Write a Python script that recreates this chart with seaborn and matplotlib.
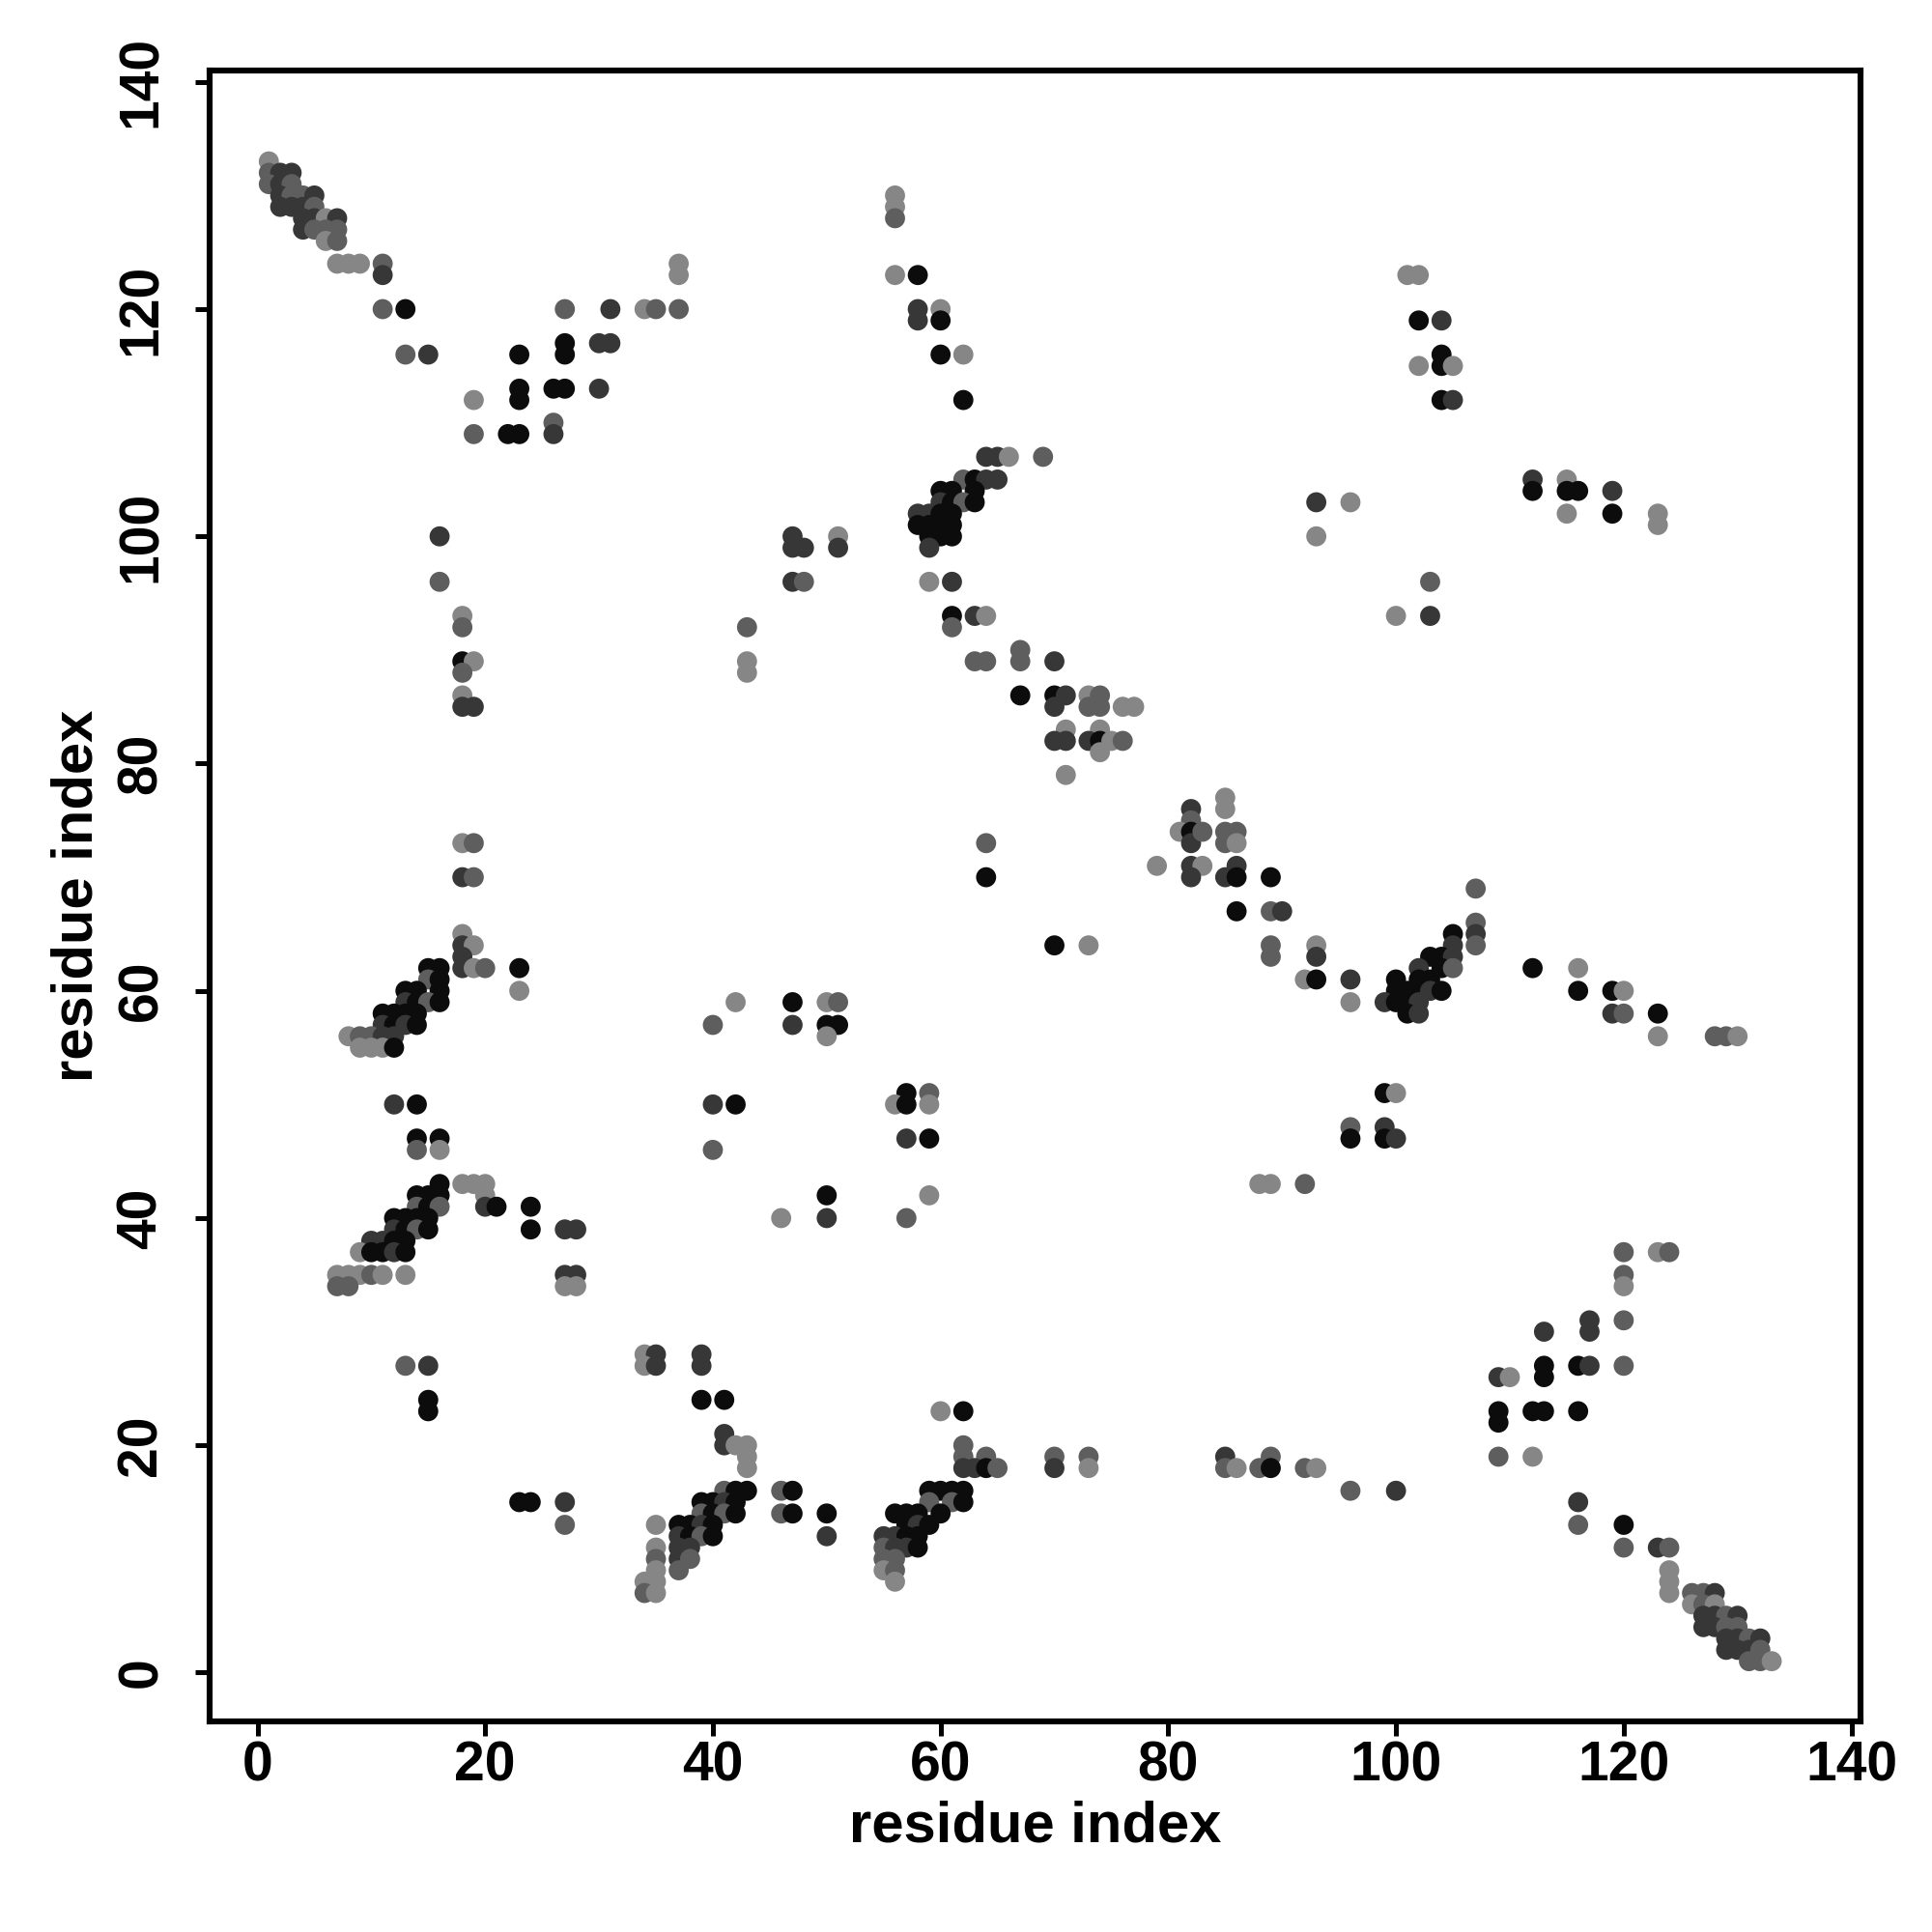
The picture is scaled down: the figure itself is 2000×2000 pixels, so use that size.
import matplotlib
matplotlib.use("Agg")
import matplotlib.pyplot as plt
import pandas as pd
import seaborn as sns

# contact map: (residue i, residue j, shade)
# shade: K = black, D = dark grey, M = mid grey, L = light grey
diag_top = [(1,133,'L'),(1,132,'M'),(2,132,'D'),(3,132,'D'),(1,131,'M'),(2,131,'D'),(3,131,'M'),
            (2,130,'D'),(3,130,'M'),(4,130,'M'),(5,130,'D'),(2,129,'D'),(3,129,'D'),(4,129,'D'),(5,129,'M'),
            (4,128,'D'),(5,128,'D'),(6,128,'L'),(7,128,'D'),(4,127,'D'),(5,127,'M'),(6,127,'M'),(7,127,'M'),
            (6,126,'L'),(7,126,'M'),(7,124,'L'),(8,124,'L'),(9,124,'L'),(11,124,'M'),(11,123,'D'),
            (11,120,'M'),(13,120,'K'),(13,116,'M'),(15,116,'D')]

top_band = [(27,120,'M'),(31,120,'D'),(34,120,'L'),(35,120,'M'),(37,120,'M'),(37,124,'L'),(37,123,'L'),
            (27,117,'K'),(30,117,'D'),(31,117,'D'),(23,116,'K'),(27,116,'K'),
            (23,113,'K'),(26,113,'K'),(27,113,'K'),(30,113,'D'),(19,112,'L'),(23,112,'K'),
            (26,110,'M'),(19,109,'M'),(22,109,'K'),(23,109,'K'),(26,109,'D')]

left_col = [(16,100,'D'),(16,96,'M'),(18,93,'L'),(18,92,'M'),(18,89,'K'),(19,89,'L'),(18,88,'M'),
            (18,86,'L'),(18,85,'D'),(19,85,'D'),(18,73,'L'),(19,73,'M'),(18,70,'D'),(19,70,'M'),
            (18,65,'L'),(18,64,'D'),(19,64,'L'),(18,63,'D')]

left_upper = [(15,62,'K'),(16,62,'K'),(18,62,'D'),(19,62,'L'),(20,62,'M'),(23,62,'K'),
              (15,61,'M'),(16,61,'K'),(13,60,'K'),(14,60,'K'),(16,60,'K'),(23,60,'L'),
              (13,59,'D'),(14,59,'K'),(15,59,'M'),(16,59,'K'),
              (11,58,'K'),(12,58,'K'),(13,58,'K'),(14,58,'K'),
              (11,57,'D'),(12,57,'K'),(13,57,'D'),(14,57,'K'),
              (8,56,'L'),(9,56,'M'),(10,56,'M'),(11,56,'D'),(12,56,'D'),
              (9,55,'L'),(10,55,'L'),(11,55,'L'),(12,55,'K'),
              (12,50,'D'),(14,50,'K'),(14,47,'K'),(16,47,'K'),(14,46,'M'),(16,46,'L')]

left_lower = [(16,43,'K'),(18,43,'L'),(19,43,'L'),(20,43,'L'),
              (14,42,'K'),(15,42,'K'),(16,42,'K'),(20,42,'L'),
              (14,41,'M'),(15,41,'K'),(16,41,'M'),(20,41,'D'),(21,41,'K'),(24,41,'K'),
              (12,40,'K'),(13,40,'K'),(14,40,'K'),(15,40,'K'),
              (12,39,'D'),(13,39,'K'),(14,39,'M'),(15,39,'K'),(24,39,'K'),(27,39,'D'),(28,39,'D'),
              (10,38,'D'),(11,38,'D'),(12,38,'K'),(13,38,'K'),
              (9,37,'L'),(10,37,'K'),(11,37,'K'),(12,37,'D'),(13,37,'K'),
              (7,35,'L'),(8,35,'L'),(9,35,'L'),(10,35,'M'),(11,35,'L'),(13,35,'L'),(27,35,'D'),(28,35,'D'),
              (7,34,'M'),(8,34,'M'),(27,34,'L'),(28,34,'L'),
              (13,27,'M'),(15,27,'D'),(15,24,'K'),(15,23,'K'),(23,15,'K'),(24,15,'K'),(27,15,'D'),(27,13,'M')]

bottom_a = [(34,28,'L'),(35,28,'D'),(39,28,'D'),(34,27,'L'),(35,27,'D'),(39,27,'D'),(39,24,'K'),(41,24,'K'),
            (41,21,'D'),(41,20,'D'),(42,20,'L'),(43,20,'L'),(43,19,'L'),(43,18,'L'),
            (41,16,'M'),(42,16,'K'),(43,16,'K'),(39,15,'K'),(40,15,'K'),(41,15,'D'),(42,15,'K'),
            (39,14,'M'),(40,14,'K'),(41,14,'M'),(42,14,'K'),
            (35,13,'L'),(37,13,'K'),(38,13,'K'),(39,13,'D'),(40,13,'K'),
            (37,12,'D'),(38,12,'K'),(39,12,'M'),(40,12,'K'),
            (35,11,'L'),(37,11,'D'),(38,11,'D'),(35,10,'M'),(37,10,'D'),(38,10,'M'),
            (35,9,'L'),(37,9,'M'),(34,8,'L'),(35,8,'L'),(34,7,'M'),(35,7,'L'),
            (46,16,'M'),(47,16,'K'),(46,14,'M'),(47,14,'K'),(50,14,'K'),(50,12,'D')]

bottom_b = [(60,23,'L'),(62,23,'K'),(62,20,'M'),(62,19,'M'),(64,19,'M'),(62,18,'D'),(63,18,'D'),(64,18,'K'),(65,18,'M'),
            (59,16,'K'),(60,16,'K'),(61,16,'K'),(62,16,'K'),(59,15,'M'),(61,15,'M'),(62,15,'K'),
            (56,14,'K'),(57,14,'K'),(58,14,'K'),(60,14,'K'),(57,13,'K'),(58,13,'D'),(59,13,'K'),
            (55,12,'D'),(56,12,'D'),(57,12,'K'),(58,12,'K'),(55,11,'M'),(56,11,'D'),(57,11,'D'),(58,11,'K'),
            (55,10,'M'),(56,10,'M'),(55,9,'L'),(56,9,'M'),(56,8,'L'),
            (70,19,'M'),(70,18,'D'),(73,19,'M'),(73,18,'L'),(85,19,'D'),(85,18,'M'),(86,18,'L'),
            (88,18,'M'),(89,19,'M'),(89,18,'K'),(92,18,'M'),(93,18,'L'),(96,16,'M'),(100,16,'D')]

middle = [(40,57,'M'),(42,59,'L'),(40,50,'D'),(42,50,'K'),(40,46,'M'),
          (47,59,'K'),(50,59,'L'),(51,59,'M'),(47,57,'D'),(50,57,'K'),(51,57,'K'),(50,56,'L'),
          (57,51,'K'),(59,51,'M'),(56,50,'L'),(57,50,'K'),(59,50,'L'),(57,47,'D'),(59,47,'K'),
          (59,42,'L'),(57,40,'M'),(46,40,'L'),(50,42,'K'),(50,40,'D')]

upper_mid = [(43,92,'M'),(43,89,'L'),(43,88,'L'),
             (47,100,'D'),(51,100,'L'),(47,99,'D'),(48,99,'D'),(51,99,'D'),(47,96,'D'),(48,96,'M'),
             (56,130,'L'),(56,129,'L'),(56,128,'M'),(56,123,'L'),(58,123,'K'),(58,120,'D'),(60,120,'L'),
             (58,119,'D'),(60,119,'K'),(60,116,'K'),(62,116,'L'),(62,112,'K'),
             (64,107,'D'),(65,107,'D'),(66,107,'L'),(69,107,'M'),
             (62,105,'M'),(63,105,'K'),(64,105,'D'),(65,105,'D'),
             (60,104,'K'),(61,104,'K'),(63,104,'K'),(60,103,'D'),(61,103,'K'),(62,103,'M'),(63,103,'K'),
             (58,102,'D'),(59,102,'D'),(60,102,'K'),(61,102,'K'),
             (58,101,'K'),(59,101,'K'),(60,101,'K'),(61,101,'K'),
             (59,100,'K'),(60,100,'K'),(61,100,'K'),(59,99,'D'),
             (59,96,'L'),(61,96,'D'),(61,93,'K'),(63,93,'D'),(64,93,'L'),(61,92,'M'),
             (67,90,'M'),(63,89,'M'),(64,89,'M'),(67,89,'M'),(70,89,'D'),
             (67,86,'K'),(70,86,'K'),(71,86,'D'),(73,86,'L'),(74,86,'M'),
             (70,85,'D'),(73,85,'M'),(74,85,'M'),(76,85,'L'),(77,85,'L'),(71,83,'L'),(74,83,'L'),
             (70,82,'D'),(71,82,'D'),(73,82,'D'),(74,82,'K'),(75,82,'L'),(76,82,'M'),(74,81,'L'),(71,79,'L')]

center = [(82,76,'D'),(82,75,'M'),(81,74,'L'),(82,74,'K'),(82,73,'D'),(83,74,'M'),(85,77,'L'),(85,76,'L'),
          (85,74,'M'),(85,73,'M'),(86,74,'M'),(86,73,'L'),(79,71,'L'),(82,71,'D'),(83,71,'L'),(86,71,'D'),
          (82,70,'D'),(85,70,'D'),(86,70,'K'),(89,70,'K'),(86,67,'K'),(89,67,'M'),(90,67,'D'),
          (89,64,'M'),(89,63,'M'),(93,64,'L'),(93,63,'D'),(92,61,'L'),(93,61,'K'),(96,61,'D'),(96,59,'L'),
          (64,73,'M'),(64,70,'K'),(70,64,'K'),(73,64,'L')]

right_mid = [(107,69,'M'),(107,66,'M'),(107,65,'D'),(107,64,'M'),(105,65,'K'),(105,64,'D'),
             (103,63,'K'),(104,63,'K'),(105,63,'D'),(102,62,'D'),(104,62,'K'),(105,62,'M'),
             (100,61,'K'),(102,61,'K'),(103,61,'K'),
             (100,60,'K'),(101,60,'K'),(102,60,'K'),(103,60,'D'),(104,60,'K'),
             (99,59,'D'),(100,59,'K'),(101,59,'K'),(102,59,'D'),(101,58,'K'),(102,58,'D'),
             (112,62,'K'),(116,62,'L'),(116,60,'K'),(119,60,'K'),(120,60,'L'),(119,58,'D'),(120,58,'M'),
             (123,58,'K'),(123,56,'L'),(128,56,'M'),(129,56,'M'),(130,56,'L'),
             (99,51,'K'),(100,51,'L'),(96,48,'M'),(99,48,'D'),(96,47,'K'),(99,47,'K'),(100,47,'D'),
             (88,43,'L'),(89,43,'L'),(92,43,'M')]

right_top = [(93,103,'D'),(96,103,'L'),(93,100,'L'),(103,96,'M'),(100,93,'L'),(103,93,'D'),
             (101,123,'L'),(102,123,'L'),(102,119,'K'),(104,119,'D'),(104,116,'K'),(102,115,'L'),
             (104,115,'K'),(105,115,'L'),(104,112,'K'),(105,112,'D'),
             (112,105,'D'),(115,105,'L'),(112,104,'K'),(115,104,'K'),(116,104,'K'),(119,104,'D'),
             (115,102,'L'),(119,102,'K'),(123,102,'L'),(123,101,'L')]

right_low = [(120,37,'M'),(123,37,'L'),(124,37,'M'),(120,35,'M'),(120,34,'L'),(120,31,'M'),(117,31,'D'),
             (113,30,'D'),(117,30,'D'),(113,27,'K'),(116,27,'K'),(117,27,'D'),(120,27,'M'),
             (109,26,'D'),(110,26,'L'),(113,26,'K'),(109,23,'K'),(112,23,'K'),(113,23,'K'),(116,23,'K'),
             (109,22,'K'),(109,19,'M'),(112,19,'L'),(116,15,'D'),(116,13,'M'),(120,13,'K'),
             (120,11,'M'),(123,11,'D'),(124,11,'M'),(124,9,'L'),(124,8,'L'),(124,7,'L')]

diag_bottom = [(126,7,'M'),(127,7,'M'),(128,7,'D'),(126,6,'L'),(127,6,'M'),(128,6,'L'),
               (127,5,'D'),(128,5,'D'),(129,5,'M'),(130,5,'D'),(127,4,'D'),(128,4,'D'),(129,4,'M'),(130,4,'M'),
               (129,3,'D'),(130,3,'D'),(131,3,'M'),(132,3,'D'),(129,2,'D'),(130,2,'D'),(131,2,'D'),(132,2,'M'),
               (131,1,'M'),(132,1,'M'),(133,1,'L')]

ticks = [0, 20, 40, 60, 80, 100, 120, 140]
greys = {'K': '#0c0c0c', 'D': '#373737', 'M': '#5e5e5e', 'L': '#868686'}

df = pd.DataFrame(diag_top + top_band + left_col + left_upper + left_lower + bottom_a + bottom_b
                  + middle + upper_mid + center + right_mid + right_top + right_low + diag_bottom,
                  columns=['i', 'j', 'shade'])

plt.rcParams['font.family'] = ['Liberation Sans', 'DejaVu Sans']
plt.rcParams['font.weight'] = 'bold'

fig = plt.figure(figsize=(10, 10), dpi=200)
ax = fig.add_axes([0.1085, 0.109, 0.8545, 0.8545])
sns.scatterplot(data=df, x='i', y='j', hue='shade', palette=greys, s=56, linewidth=0,
                legend=False, ax=ax)

ax.set_xlim(-4.2, 140.8)
ax.set_ylim(-4.3, 141)
ax.set_xticks(ticks)
ax.set_yticks(ticks)
ax.set_xticklabels(ticks, fontsize=20.5, fontweight='bold')
ax.set_yticklabels(ticks, fontsize=20.5, fontweight='bold', rotation=90, va='center')
ax.tick_params(axis='both', direction='out', length=5.5, width=1.8)
ax.tick_params(axis='x', pad=1.5)
ax.tick_params(axis='y', pad=10)
for sp in ax.spines.values():
    sp.set_linewidth(2.2)
    sp.set_color('black')

ax.set_xlabel('residue index', fontsize=21.5, fontweight='bold')
ax.set_ylabel('residue index', fontsize=21.5, fontweight='bold')
ax.xaxis.set_label_coords(0.5, -0.064)
ax.xaxis.label.set_va('center')
ax.yaxis.set_label_coords(-0.080, 0.5)
ax.yaxis.label.set_va('center')

fig.savefig('out.png', dpi=200, facecolor='white')
